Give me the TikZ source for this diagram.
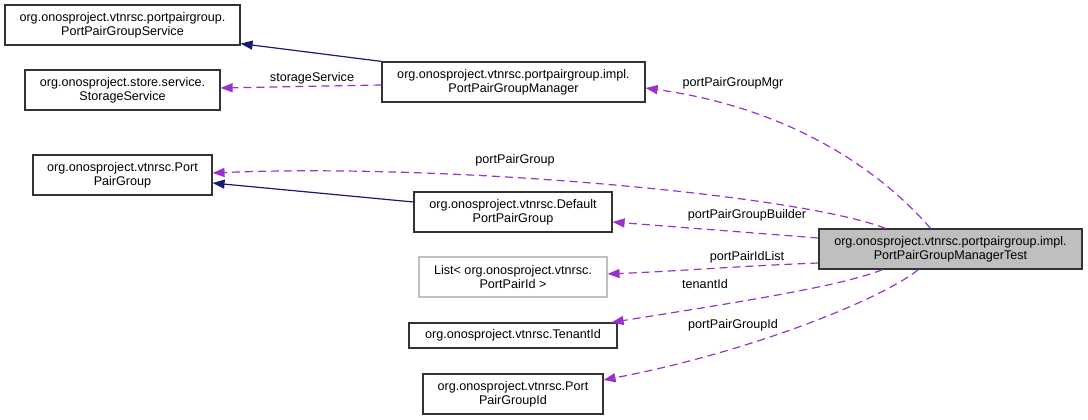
\documentclass[tikz,border=0pt]{standalone}
\usepackage{fontspec}
\setmainfont{Liberation Sans}
\usetikzlibrary{arrows.meta}
\definecolor{znavy}{RGB}{25, 25, 112}
\definecolor{zorchid}{RGB}{153, 50, 204}
\definecolor{zgrey}{RGB}{191, 191, 191}

\begin{document}
\begin{tikzpicture}[x=1pt, y=-1pt,
  cls/.style={rectangle, draw=black!80, fill=white, line width=1.2pt, inner sep=0pt,
              minimum width=#1, minimum height=40pt, align=center,
              font=\fontsize{12.6}{14}\selectfont},
  inherit/.style={-{Triangle[length=12pt, width=9pt]}, line width=1.2pt, znavy},
  member/.style={-{Triangle[length=12pt, width=9pt]}, line width=1.2pt, zorchid,
                 dash pattern=on 8pt off 5pt},
  lbl/.style={font=\fontsize{12.6}{14}\selectfont, inner sep=1pt}
]
\useasboundingbox (0,0) rectangle (1088,420);

\node[cls=235pt] (svc)    at (122.5,25)  {org.onosproject.vtnrsc.portpairgroup.\\PortPairGroupService};
\node[cls=195pt] (store)  at (122.5,90)  {org.onosproject.store.service.\\StorageService};
\node[cls=179pt] (ppg)    at (122.5,175) {org.onosproject.vtnrsc.Port\\PairGroup};
\node[cls=263pt] (mgr)    at (513.5,82)  {org.onosproject.vtnrsc.portpairgroup.impl.\\PortPairGroupManager};
\node[cls=198pt] (dflt)   at (513,212)   {org.onosproject.vtnrsc.Default\\PortPairGroup};
\node[cls=188pt, draw=zgrey] (list) at (513,277) {List< org.onosproject.vtnrsc.\\PortPairId >};
\node[cls=208pt, minimum height=25pt] (tenant) at (513,335.5) {org.onosproject.vtnrsc.TenantId};
\node[cls=180pt] (ppgid)  at (513,394)   {org.onosproject.vtnrsc.Port\\PairGroupId};
\node[cls=263pt, fill=zgrey] (test) at (950.5,249) {org.onosproject.vtnrsc.portpairgroup.impl.\\PortPairGroupManagerTest};

\draw[inherit] (mgr.north west) -- ([yshift=2pt]svc.south east);
\draw[member] ([yshift=-3pt]mgr.west) -- ([yshift=2pt]store.east);
\draw[inherit] ([yshift=10pt]dflt.west) -- ([yshift=-8pt]ppg.east);

\draw[member] ([xshift=-20pt]test.north) .. controls (880,170) and (790,108) .. ([yshift=-6pt]mgr.east);
\draw[member] ([xshift=-65pt]test.north) .. controls (800,195) and (450,163) .. ([yshift=2pt]ppg.east);
\draw[member] ([yshift=11pt]test.west) -- ([yshift=-10pt]dflt.east);
\draw[member] ([yshift=-14pt]test.west) .. controls (740,266) and (680,271) .. ([yshift=3pt]list.east);
\draw[member] ([xshift=-68pt]test.south) .. controls (840,287) and (720,305) .. ([xshift=-6pt]tenant.north east);
\draw[member] ([xshift=-32pt]test.south) .. controls (880,300) and (750,352) .. ([yshift=14pt]ppgid.east);

\node[lbl] (lstore)  at (312,78)  {storageService};
\node[lbl] (lmgr)    at (733,83)  {portPairGroupMgr};
\node[lbl] (lppg)    at (515,160) {portPairGroup};
\node[lbl] (lbuild)  at (747,215) {portPairGroupBuilder};
\node[lbl] (llist)   at (747,257) {portPairIdList};
\node[lbl] (ltenant) at (705,284) {tenantId};
\node[lbl] (lppgid)  at (733,325) {portPairGroupId};
\end{tikzpicture}
\end{document}
